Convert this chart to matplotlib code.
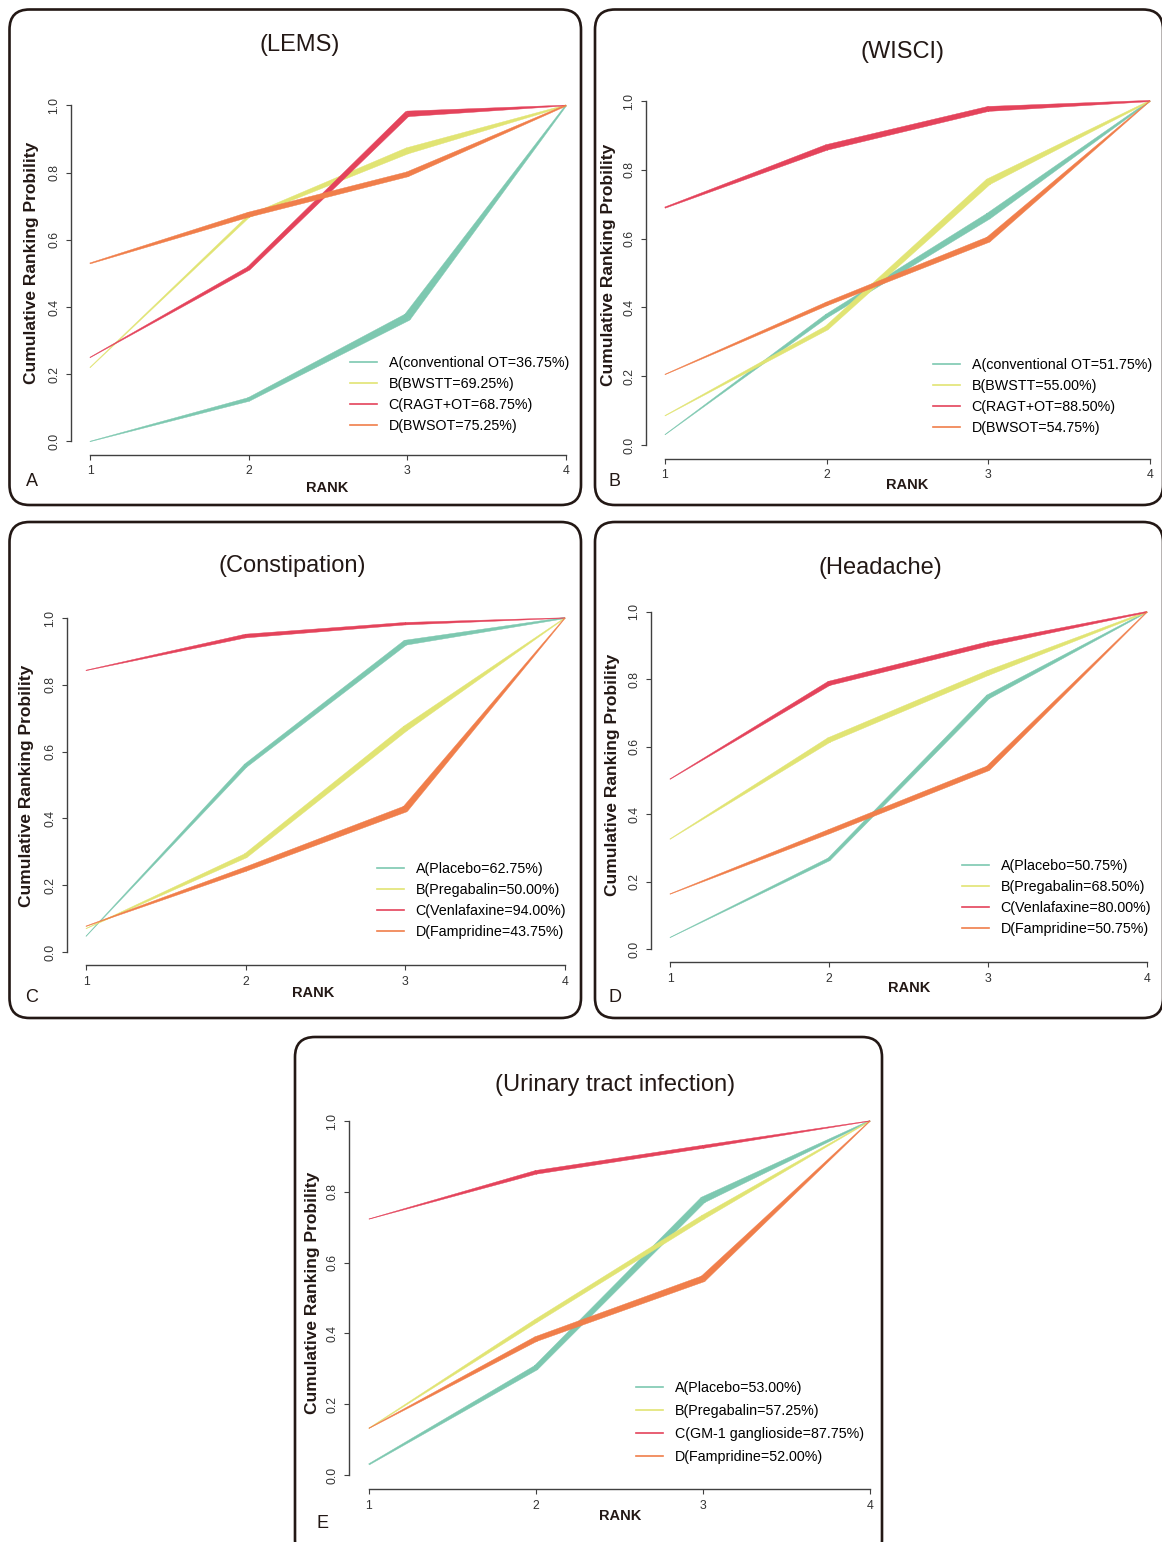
import numpy as np
import matplotlib
matplotlib.use('Agg')
import matplotlib.pyplot as plt
from matplotlib.patches import Polygon, FancyBboxPatch
from matplotlib.lines import Line2D
from matplotlib.transforms import IdentityTransform

plt.rcParams['font.family'] = ['Liberation Sans', 'DejaVu Sans']

# ---- data (cumulative ranking probabilities) ----
ranks = [1, 2, 3, 4]

lems_a = [0.0, 0.125, 0.37, 1.0]
lems_b = [0.22, 0.67, 0.865, 1.0]
lems_c = [0.25, 0.515, 0.975, 1.0]
lems_d = [0.53, 0.675, 0.795, 1.0]
lems_labels = ['A(conventional OT=36.75%)', 'B(BWSTT=69.25%)',
               'C(RAGT+OT=68.75%)', 'D(BWSOT=75.25%)']

wisci_a = [0.03, 0.375, 0.665, 1.0]
wisci_b = [0.085, 0.34, 0.765, 1.0]
wisci_c = [0.69, 0.865, 0.977, 1.0]
wisci_d = [0.205, 0.41, 0.597, 1.0]
wisci_labels = ['A(conventional OT=51.75%)', 'B(BWSTT=55.00%)',
                'C(RAGT+OT=88.50%)', 'D(BWSOT=54.75%)']

const_a = [0.047, 0.558, 0.926, 1.0]
const_b = [0.07, 0.288, 0.669, 1.0]
const_c = [0.843, 0.946, 0.983, 1.0]
const_d = [0.077, 0.248, 0.428, 1.0]
const_labels = ['A(Placebo=62.75%)', 'B(Pregabalin=50.00%)',
                'C(Venlafaxine=94.00%)', 'D(Fampridine=43.75%)']

head_a = [0.034, 0.266, 0.748, 1.0]
head_b = [0.326, 0.62, 0.819, 1.0]
head_c = [0.504, 0.788, 0.905, 1.0]
head_d = [0.163, 0.348, 0.536, 1.0]
head_labels = ['A(Placebo=50.75%)', 'B(Pregabalin=68.50%)',
               'C(Venlafaxine=80.00%)', 'D(Fampridine=50.75%)']

uti_a = [0.03, 0.303, 0.777, 1.0]
uti_b = [0.132, 0.435, 0.728, 1.0]
uti_c = [0.723, 0.855, 0.927, 1.0]
uti_d = [0.132, 0.384, 0.554, 1.0]
uti_labels = ['A(Placebo=53.00%)', 'B(Pregabalin=57.25%)',
              'C(GM-1 ganglioside=87.75%)', 'D(Fampridine=52.00%)']

colors = ['#7dc8b0', '#e1e473', '#e4435b', '#f07e4a']
BORDER = '#231815'
AXC = '#404040'

W, H = 1162, 1542
fig = plt.figure(figsize=(W / 100, H / 100), dpi=100)


def fxy(x, y):
    # pixel (from top-left) -> figure fraction
    return x / W, 1 - y / H


def taper_line(ax, x, y, widths, color):
    # line whose width (pixels) changes from point to point
    pts = ax.transData.transform(np.column_stack([x, y]))
    inv = ax.transData.inverted()
    quads = []
    for i in range(len(pts) - 1):
        p0, p1 = pts[i], pts[i + 1]
        d = p1 - p0
        n = np.array([-d[1], d[0]]) / np.hypot(d[0], d[1])
        h0, h1 = widths[i] / 2, widths[i + 1] / 2
        quads.append((p0 + n * h0, p1 + n * h1, p1 - n * h1, p0 - n * h0))
    for q in quads:
        ax.add_patch(Polygon(inv.transform(np.array(q)), closed=True, fc=color,
                             ec=color, lw=0.3, zorder=3))
    # fill the joints
    for i in range(1, len(pts) - 1):
        a, b = quads[i - 1], quads[i]
        for tri in ([pts[i], a[1], b[0]], [pts[i], a[2], b[3]]):
            ax.add_patch(Polygon(inv.transform(np.array(tri)), closed=True,
                                 fc=color, ec=color, lw=0.3, zorder=3))


def box(x0, y0, x1, y1):
    p = FancyBboxPatch((x0, H - y1), x1 - x0, y1 - y0,
                       boxstyle='round,pad=0,rounding_size=20',
                       fc='none', ec=BORDER, lw=1.9,
                       transform=IdentityTransform())
    fig.patches.append(p)


def panel(series, widths, labels, title, letter, geo):
    x1, x4, y0, y1 = geo['axis']
    sx = (x4 - x1) / 3.0
    sy = y0 - y1
    left, right = x1 - 0.12 * sx, x4 + 0.12 * sx
    top, bottom = y1 - 0.04 * sy, y0 + 0.04 * sy
    ax = fig.add_axes([left / W, 1 - bottom / H, (right - left) / W, (bottom - top) / H])
    ax.set_xlim(0.88, 4.12)
    ax.set_ylim(-0.04, 1.04)
    ax.patch.set_visible(False)
    for s in ['top', 'right']:
        ax.spines[s].set_visible(False)
    ax.spines['left'].set_bounds(0, 1)
    ax.spines['bottom'].set_bounds(1, 4)
    for s in ['left', 'bottom']:
        ax.spines[s].set_color(AXC)
        ax.spines[s].set_linewidth(1.0)
    ax.set_xticks(ranks)
    ax.set_yticks([0, 0.2, 0.4, 0.6, 0.8, 1.0])
    ax.set_yticklabels(['0.0', '0.2', '0.4', '0.6', '0.8', '1.0'])
    ax.tick_params(length=3.6, width=0.8, color=AXC, labelsize=8.8,
                   labelcolor='#333333', pad=4)
    ax.tick_params(axis='y', labelrotation=90)
    for lab in ax.get_yticklabels():
        lab.set_va('center')

    for yv, w, c in zip(series, widths, colors):
        taper_line(ax, ranks, yv, [v * 1.25 for v in w], c)

    handles = [Line2D([], [], color=c, lw=1.2) for c in colors]
    lx, ly = geo['legend']
    ax.legend(handles, labels, loc='upper left', bbox_to_anchor=fxy(lx, ly - 8),
              bbox_transform=fig.transFigure, frameon=False, fontsize=10.3,
              handlelength=1.9, handletextpad=0.8, labelspacing=geo.get('lsp', 0.5),
              borderpad=0, borderaxespad=0)

    tx, ty = geo['title']
    fig.text(*fxy(tx, ty), title, fontsize=17, ha='center', va='center', color='#231815')
    yx, yy = geo['ylabel']
    fig.text(*fxy(yx, yy), 'Cumulative Ranking Probility', fontsize=12.5, fontweight='bold',
             rotation=90, ha='center', va='center', color='#231815')
    rx, ry = geo['rank']
    fig.text(*fxy(rx, ry), 'RANK', fontsize=10.5, fontweight='bold',
             ha='center', va='center', color='#231815')
    px, py = geo['letter']
    fig.text(*fxy(px, py), letter, fontsize=13, ha='center', va='center', color='#231815')
    return ax


# ---- line widths in pixels at rank 1..4 (style) ----
w_lems = [[0.4, 3, 6, 1], [0.4, 2, 5, 1], [0.4, 3, 4.5, 0.6], [0.8, 4, 4, 1]]
w_wisci = [[0.3, 3, 5, 1], [0.4, 3.5, 5, 1], [1, 4.5, 4, 1], [0.4, 3, 4.5, 0.5]]
w_const = [[0.3, 3, 4, 1], [0.3, 3.5, 4.5, 0.5], [0.4, 3, 2, 0.4], [0.4, 3.5, 5, 0.5]]
w_head = [[0.3, 2.5, 3.5, 0.8], [0.4, 4, 4, 1], [0.4, 3.5, 3.5, 1], [0.4, 3.5, 4, 0.5]]
w_uti = [[1, 4, 5, 1], [0.4, 3, 3.5, 0.5], [0.3, 3, 2.5, 0.4], [0.4, 4, 5, 0.5]]

box(9.5, 9.5, 581, 505)
box(595, 9.5, 1163, 505)
box(9.5, 522, 581, 1018)
box(595, 522, 1163, 1018)
box(295, 1037, 882, 1560)

panel([lems_a, lems_b, lems_c, lems_d], w_lems, lems_labels, '(LEMS)', 'A',
      dict(axis=(90, 566, 441.5, 105.5), legend=(350, 364), title=(300, 45),
           ylabel=(32, 263), rank=(327, 488), letter=(32, 482)))
panel([wisci_a, wisci_b, wisci_c, wisci_d], w_wisci, wisci_labels, '(WISCI)', 'B',
      dict(axis=(665, 1150, 445, 101), legend=(933, 366), title=(903, 52),
           ylabel=(608, 265), rank=(907, 485), letter=(615, 482)))
panel([const_a, const_b, const_c, const_d], w_const, const_labels, '(Constipation)', 'C',
      dict(axis=(86, 565, 952, 618), legend=(377, 870), title=(292, 566),
           ylabel=(27, 786), rank=(313, 993), letter=(32, 997)))
panel([head_a, head_b, head_c, head_d], w_head, head_labels, '(Headache)', 'D',
      dict(axis=(670, 1147, 949, 612), legend=(962, 867), title=(880, 568),
           ylabel=(612, 775), rank=(909, 988), letter=(615, 997)))
panel([uti_a, uti_b, uti_c, uti_d], w_uti, uti_labels, '(Urinary tract infection)', 'E',
      dict(axis=(369, 870, 1475, 1121), legend=(636, 1389), title=(615, 1085),
           ylabel=(313, 1293), rank=(620, 1516), letter=(322, 1523), lsp=0.62))

fig.savefig('out.png', dpi=100)
